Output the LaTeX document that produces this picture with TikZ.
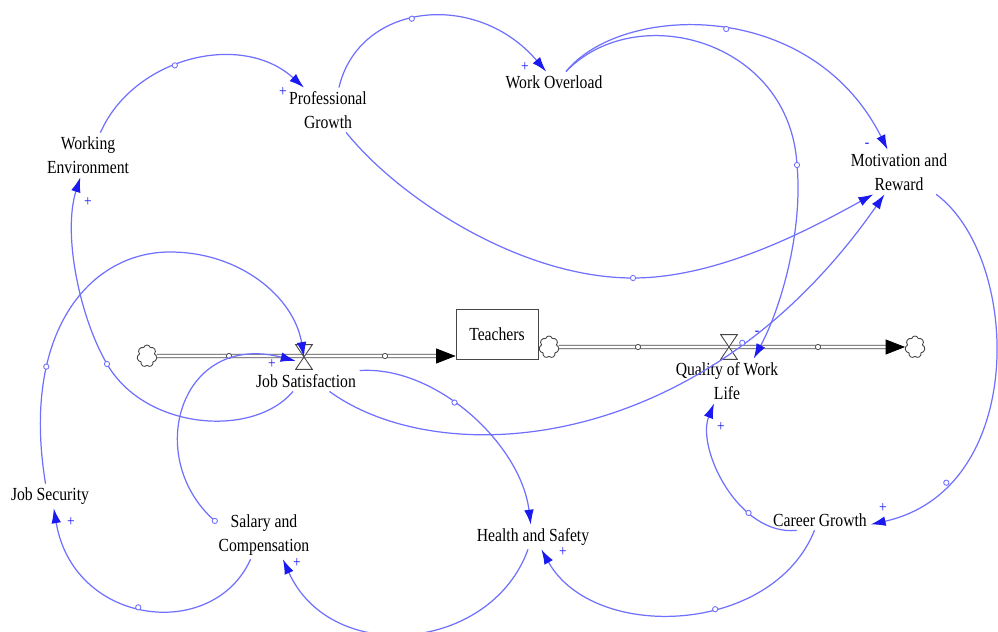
\documentclass[tikz,border=0pt]{standalone}
\usepackage{fontspec}
\usepackage{tikz}
\usetikzlibrary{arrows.meta,shapes.symbols}
\newfontfamily\vfont[FakeStretch=0.85]{Liberation Serif}
\definecolor{linkblue}{RGB}{112,112,255}
\definecolor{tipblue}{RGB}{25,25,240}
\definecolor{pipegray}{RGB}{70,70,70}

\begin{document}
\begin{tikzpicture}[x=0.2mm, y=-0.2mm,
	var/.style={font=\vfont\fontsize{10.5}{13.6}\selectfont, align=center, inner sep=2pt},
	stock/.style={var, draw=pipegray, line width=0.5pt, minimum width=16.4mm, minimum height=10mm},
	link/.style={draw=linkblue, line width=0.7pt, -{Latex[length=8.5pt,width=5.5pt,color=tipblue]}},
	hdl/.style={circle, draw=linkblue, fill=white, line width=0.5pt, inner sep=0pt, minimum size=3pt},
	pipedot/.style={circle, draw=pipegray, fill=white, line width=0.4pt, inner sep=0pt, minimum size=3pt},
	pol/.style={font=\vfont\fontsize{9}{9}\selectfont, text=tipblue, inner sep=0pt},
	cloudnode/.style={cloud, cloud puffs=7, draw=pipegray, fill=white, line width=0.5pt, minimum width=4mm, minimum height=4.4mm, inner sep=0pt},
	valvept/.style={minimum width=3.2mm, minimum height=4.8mm, inner sep=0pt},
	valve/.style={draw=pipegray, fill=white, line width=0.5pt},
	pipe/.style={draw=pipegray, double=white, double distance=1.5pt, line width=0.5pt},
	flowtip/.style={-{Triangle[length=11pt,width=8.5pt,color=black]}}]

	\useasboundingbox (0,0) rectangle (998,632);

	\node[var] (we) at (88,155) {Working\\Environment};
	\node[var] (pg) at (328,110) {Professional\\Growth};
	\node[var] (wo) at (554,82) {Work Overload};
	\node[var] (mr) at (899,172) {Motivation and\\Reward};
	\node[stock] (tea) at (497,334) {Teachers};
	\node[var] (js) at (306,381) {Job Satisfaction};
	\node[var] (qwl) at (727,381) {Quality of Work\\Life};
	\node[var] (jsec) at (50,496) {Job Security};
	\node[var] (sc) at (264,535) {Salary and\\Compensation};
	\node[var] (hs) at (533,537) {Health and Safety};
	\node[var] (cg) at (820,520) {Career Growth};

	\node[cloudnode] (lc) at (147,356) {};
	\node[cloudnode] (rc1) at (549,347) {};
	\node[cloudnode] (rc2) at (915,347) {};
	\coordinate (tin) at (tea.west |- lc);
	\draw[pipe] (lc.east) -- ([xshift=-10pt]tin);
	\draw[flowtip] ([xshift=-11pt]tin) -- (tin);
	\draw[pipe] (rc1.east) -- ([xshift=-10pt]rc2.west);
	\draw[flowtip] ([xshift=-11pt]rc2.west) -- (rc2.west);
	\node[pipedot] (pd1) at (229,356) {};
	\node[pipedot] (pd2) at (385,356) {};
	\node[pipedot] (pd3) at (638,347) {};
	\node[pipedot] (pd4) at (818,347) {};

	\node[valvept] (jsv) at (304,357) {};
	\node[valvept] (qwlv) at (729,347) {};
	\draw[valve] (jsv.north west) -- (jsv.north east) -- (jsv.south west) -- (jsv.south east) -- cycle;
	\draw[valve] (qwlv.north west) -- (qwlv.north east) -- (qwlv.south west) -- (qwlv.south east) -- cycle;

	\coordinate (c4) at (797,165);
	\coordinate (c5) at (633,278);
	\coordinate (c12) at (170,252);
	\coordinate (c13) at (107,364);

	\draw[link] (we.61) .. controls +(33,-75) and +(-63,-57) .. (pg.137) node[hdl, pos=0.43] (h1) {};
	\draw[link] (pg.64) .. controls +(20,-85) and +(-70,-82) .. (wo.127) node[hdl, pos=0.45] (h2) {};
	\draw[link] (wo.41) .. controls +(55,-68) and +(-77,-153) .. (mr.117) node[hdl, pos=0.52] (h3) {};
	\draw[link] (wo.41) .. controls +(70,-73) and +(-7,-125) .. (c4) .. controls +(6,65) and +(28,-52) .. (qwl.40);
	\draw[link] (pg.-51) .. controls +(52,65) and +(-113,0) .. (c5) .. controls +(87,0) and +(-60,33) .. (mr.-139);
	\draw[link] (js.-24) .. controls +(110,80) and +(-183,263) .. (mr.-123) node[hdl, pos=0.76] (h6) {};
	\draw[link] (mr.-31) .. controls +(85,63) and +(158,-35) .. (cg.-5) node[hdl, pos=0.8] (h7) {};
	\draw[link] (cg.-156) .. controls +(-58,6) and +(-18,45) .. (qwl.-120) node[hdl, pos=0.31] (h8) {};
	\draw[link] (cg.-118) .. controls +(-42,105) and +(52,93) .. (hs.-56) node[hdl, pos=0.4] (h9) {};
	\draw[link] (hs.-112) .. controls +(-37,103) and +(48,107) .. (sc.-52);
	\draw[link] (sc.-119) .. controls +(-37,83) and +(20,118) .. (jsec.-73) node[hdl, pos=0.53] (h11) {};
	\draw[link] (jsec.110) .. controls +(-25,-152) and +(-80,0) .. (c12) node[hdl, pos=0.3] (h12) {}
		.. controls +(70,0) and +(-10,-60) .. (jsv.center);
	\draw[link] (js.-141) .. controls +(-40,47) and +(38,66) .. (c13) .. controls +(-27,-46) and +(-18,57) .. (we.251);
	\draw[link] (sc.164) .. controls +(-72,-63) and +(-116,-30) .. (jsv.205) node[hdl, pos=0] (h14) {};
	\draw[link] (js.north east) .. controls +(77,-5) and +(-10,-80) .. (hs.100) node[hdl, pos=0.42] (h15) {};

	\node[hdl] (h4) at (c4) {};
	\node[hdl] (h5) at (c5) {};
	\node[hdl] (h13) at (c13) {};

	\node[pol] (s1) at (283,92) {+};
	\node[pol] (s2) at (525,67) {+};
	\node[pol] (s3) at (867,145) {-};
	\node[pol] (s4) at (757,333) {-};
	\node[pol] (s7) at (883,508) {+};
	\node[pol] (s8) at (721,427) {+};
	\node[pol] (s9) at (563,552) {+};
	\node[pol] (s10) at (297,563) {+};
	\node[pol] (s11) at (71,522) {+};
	\node[pol] (s13) at (88,202) {+};
	\node[pol] (s14) at (272,364) {+};
\end{tikzpicture}
\end{document}
